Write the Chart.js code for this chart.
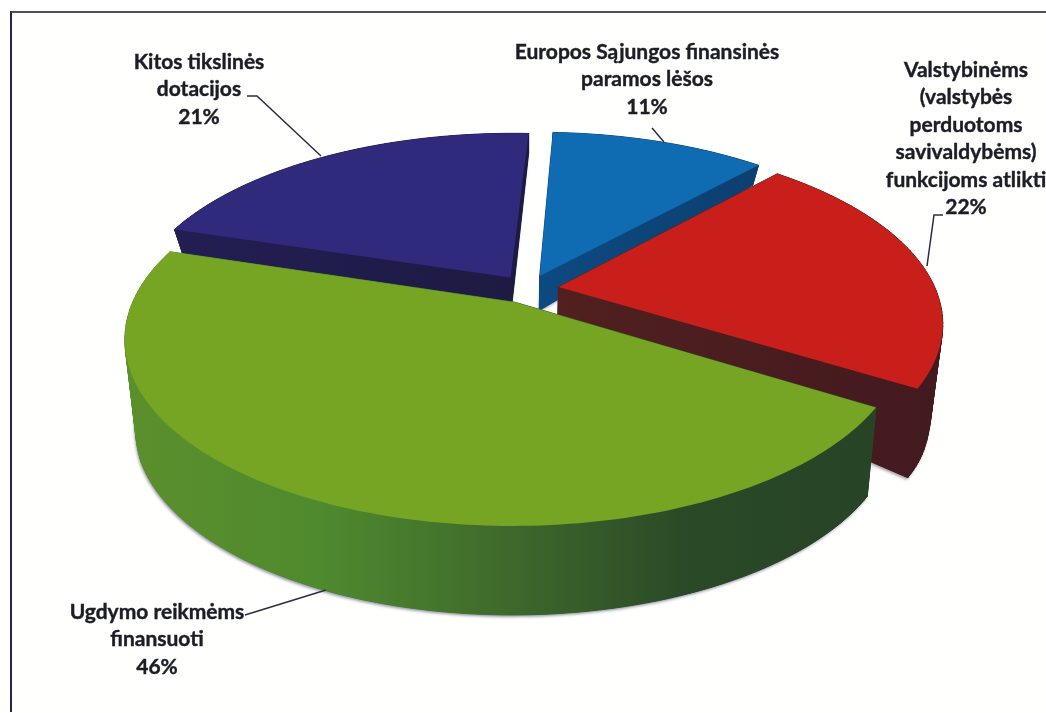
<!DOCTYPE html>
<html lang="lt">
<head>
  <meta charset="utf-8" />
  <title>Lėšų struktūra</title>
  <style>
    html, body { margin: 0; padding: 0; background: #fffffd; overflow: hidden; }
    #wrap { position: relative; width: 1046px; height: 713px; }
    #frame {
      position: absolute; left: 10px; top: 11px; right: 0; bottom: 1px;
      border-left: 2px solid #23264a;
      border-top: 2px solid #4c4f5c;
    }
    canvas { position: absolute; left: 0; top: 0; }
  </style>
</head>
<body>
  <div id="wrap">
    <div id="frame"></div>
    <canvas id="chart" width="1046" height="713"></canvas>
  </div>

  <script src="https://cdn.jsdelivr.net/npm/chart.js"></script>
  <script>
    const categories = [
      'Europos Sąjungos finansinės paramos lėšos',
      'Valstybinėms (valstybės perduotoms savivaldybėms) funkcijoms atlikti',
      'Ugdymo reikmėms finansuoti',
      'Kitos tikslinės dotacijos'
    ];
    const values = [11, 22, 46, 21];

    const topColors = ['#0f6cb3', '#c81f1b', '#76a523', '#302a7c'];
    const wallColors = [
      ['#0d4a80', '#0d3f70'],
      ['#51201f', '#431a1f'],
      ['#5b8f2c', '#4f8a2e', '#3f6a2c', '#2a4a27', '#274426'],
      ['#231e52', '#1d1a42']
    ];
    // back to front
    const drawOrder = [3, 0, 1, 2];

    // how each label is broken and where it sits, same order as categories
    const labelLines = [
      ['Europos Sąjungos finansinės', 'paramos lėšos'],
      ['Valstybinėms', '(valstybės', 'perduotoms', 'savivaldybėms)', 'funkcijoms atlikti'],
      ['Ugdymo reikmėms', 'finansuoti'],
      ['Kitos tikslinės', 'dotacijos']
    ];
    const labelPos = [[647, 59], [966, 77], [157, 619], [199, 69]];
    const leaders = [
      [[652, 128], [664, 142]],
      [[943, 215], [934, 215], [927, 266]],
      [[245, 615], [326, 590]],
      [[247, 96], [257, 96], [321, 156]]
    ];

    // camera of the tilted pie
    const cam = { cx: 528, cy: 289, rx: 377, ry: 175.5, persp: 0.19 };

    function project(u, v) {
      const w = 1 + cam.persp * v;
      return { x: cam.cx + cam.rx * u / w, y: cam.cy - cam.ry * v / w };
    }

    function clamp01(t) {
      return Math.min(1, Math.max(0, t));
    }

    // side wall looks much taller towards the front
    function wallDepth(v) {
      let t = clamp01((0.15 - v) / 0.6);
      t = t * t * (3 - 2 * t);
      return 20 + 12 * clamp01((0.7 - v) / 0.6) + 57 * t;
    }

    function lower(u, v) {
      const p = project(u, v);
      return { x: p.x - (p.x - cam.cx) * 0.025, y: p.y + wallDepth(v) };
    }

    function outline(arc) {
      const { startAngle, endAngle, outerRadius } = arc.getProps(['startAngle', 'endAngle', 'outerRadius'], true);
      const off = arc.options.offset / outerRadius;
      const mid = (startAngle + endAngle) / 2;
      const ox = Math.cos(mid) * off;
      const oy = -Math.sin(mid) * off;
      const pts = [[ox, oy]];
      const steps = Math.ceil((endAngle - startAngle) / 0.02);
      for (let i = 0; i <= steps; i++) {
        const a = startAngle + (endAngle - startAngle) * i / steps;
        pts.push([ox + Math.cos(a), oy - Math.sin(a)]);
      }
      return pts;
    }

    function tracePoly(ctx, list) {
      ctx.beginPath();
      list.forEach((p, i) => i ? ctx.lineTo(p.x, p.y) : ctx.moveTo(p.x, p.y));
      ctx.closePath();
    }

    const pie3d = {
      id: 'pie3d',
      beforeDatasetsDraw(chart) {
        const ctx = chart.ctx;
        const arcs = chart.getDatasetMeta(0).data;
        ctx.save();
        for (const i of drawOrder) {
          const pts = outline(arcs[i]);
          const top = pts.map(p => project(p[0], p[1]));
          const bottom = pts.map(p => lower(p[0], p[1]));

          const xs = bottom.map(p => p.x);
          const grad = ctx.createLinearGradient(Math.min(...xs), 0, Math.max(...xs), 0);
          wallColors[i].forEach((c, k, all) => grad.addColorStop(k / (all.length - 1), c));
          ctx.fillStyle = grad;
          ctx.strokeStyle = grad;
          ctx.lineWidth = 1;

          // soft grey edge under the body
          ctx.save();
          ctx.shadowColor = 'rgba(95,95,125,0.65)';
          ctx.shadowBlur = 3;
          ctx.shadowOffsetX = -1;
          ctx.shadowOffsetY = 2;
          tracePoly(ctx, bottom);
          ctx.fill();
          ctx.restore();

          for (let k = 0; k < pts.length; k++) {
            const n = (k + 1) % pts.length;
            tracePoly(ctx, [top[k], top[n], bottom[n], bottom[k]]);
            ctx.fill();
            ctx.stroke();
          }

          tracePoly(ctx, top);
          ctx.fillStyle = topColors[i];
          ctx.fill();
        }
        ctx.restore();
        return false;
      },
      afterDraw(chart) {
        const ctx = chart.ctx;
        ctx.save();
        ctx.strokeStyle = '#2c2e3e';
        ctx.lineWidth = 1.5;
        leaders.forEach(line => {
          ctx.beginPath();
          line.forEach((p, i) => i ? ctx.lineTo(p[0], p[1]) : ctx.moveTo(p[0], p[1]));
          ctx.stroke();
        });
        ctx.fillStyle = '#1c1d26';
        ctx.strokeStyle = '#1c1d26';
        ctx.lineWidth = 0.4;
        ctx.font = 'bold 21px Lato, sans-serif';
        ctx.textAlign = 'center';
        ctx.textBaseline = 'alphabetic';
        labelLines.forEach((lines, i) => {
          const [x, y] = labelPos[i];
          lines.concat(values[i] + '%').forEach((txt, k) => {
            ctx.fillText(txt, x, y + k * 27.4);
            ctx.strokeText(txt, x, y + k * 27.4);
          });
        });
        ctx.restore();
      }
    };

    new Chart(document.getElementById('chart'), {
      type: 'pie',
      data: {
        labels: categories,
        datasets: [{
          data: values,
          backgroundColor: topColors,
          borderWidth: 0,
          offset: 28
        }]
      },
      options: {
        responsive: false,
        animation: false,
        rotation: 2.8,
        events: [],
        plugins: { legend: { display: false }, tooltip: { enabled: false } }
      },
      plugins: [pie3d]
    });
  </script>
</body>
</html>
